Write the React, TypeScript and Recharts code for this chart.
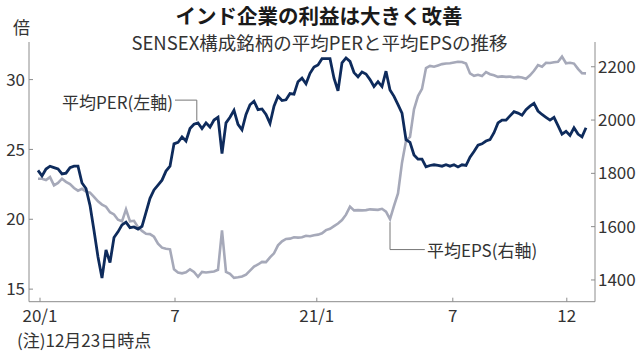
import { Line, LineChart, ReferenceLine, XAxis, YAxis } from "recharts";

// 平均PER (左軸, 倍) - roughly weekly samples from 2020/1 to 2021/12/23
const per = [
  23.5, 23.1, 23.6, 23.8, 23.7, 23.6, 23.25, 23.3, 23.7, 23.8,
  23.8, 22.6, 22.2, 21.0, 19.2, 17.3, 15.8, 17.8, 16.9, 18.7,
  19.1, 19.6, 19.8, 19.4, 19.45, 19.3, 19.5, 20.5, 21.5, 22.1,
  22.45, 22.8, 23.45, 23.8, 25.4, 25.5, 25.9, 25.6, 26.5, 26.8,
  26.9, 26.5, 26.9, 26.6, 27.1, 27.3, 24.7, 26.9, 27.3, 27.8,
  26.8, 26.4, 27.5, 28.2, 28.45, 27.85, 27.9, 27.5, 26.86, 28.1,
  28.8, 28.5, 28.55, 29.0, 28.95, 29.85, 30.1, 29.7, 30.45, 30.9,
  31.05, 31.5, 31.5, 31.5, 30.1, 29.2, 31.2, 31.55, 31.3, 30.5,
  30.2, 30.55, 30.4, 30.0, 29.5, 29.85, 29.5, 30.6, 29.25, 28.8,
  28.2, 27.6, 25.7, 25.5, 24.6, 24.3, 24.3, 23.75, 23.85, 23.9,
  23.85, 23.8, 23.9, 23.8, 23.9, 23.75, 23.9, 23.85, 24.45, 24.85,
  25.3, 25.4, 25.6, 25.7, 26.2, 26.9, 27.1, 27.1, 27.4, 27.7,
  27.6, 27.45, 27.85, 28.1, 28.3, 27.75, 27.5, 27.3, 27.1, 27.3,
  26.7, 26.1, 26.3, 26.0, 26.55, 26.1, 25.9, 26.55,
];

// 平均EPS (右軸)
const eps = [
  1780, 1780, 1775, 1786, 1755, 1764, 1780, 1768, 1760, 1745,
  1735, 1742, 1732, 1728, 1712, 1695, 1683, 1675, 1654, 1646,
  1626, 1620, 1665, 1620, 1622, 1598, 1584, 1573, 1572, 1562,
  1536, 1521, 1517, 1515, 1440, 1428, 1425, 1429, 1440, 1430,
  1412, 1430, 1428, 1430, 1432, 1438, 1586, 1430, 1423, 1408,
  1410, 1413, 1420, 1435, 1450, 1458, 1468, 1467, 1485, 1500,
  1530, 1545, 1554, 1555, 1560, 1559, 1560, 1566, 1564, 1568,
  1570, 1575, 1587, 1592, 1602, 1612, 1625, 1645, 1675, 1661,
  1662, 1661, 1662, 1665, 1664, 1663, 1667, 1656, 1628, 1678,
  1725, 1840, 1922, 1937, 2040, 2090, 2117, 2195, 2203, 2200,
  2205, 2210, 2212, 2213, 2216, 2219, 2218, 2212, 2175, 2166,
  2170, 2165, 2180, 2172, 2168, 2162, 2164, 2162, 2163, 2160,
  2162, 2160, 2155, 2168, 2185, 2206, 2200, 2215, 2214, 2217,
  2219, 2238, 2213, 2215, 2212, 2192, 2176, 2175,
];

const xTickPos = [0.5, 34.25, 69.7, 103.7, 132.2];
const xTickLabels = ["20/1", "7", "21/1", "7", "12"];
const perTicks = [15, 20, 25, 30];
const epsTicks = [1400, 1600, 1800, 2000, 2200];

const data = per.map((v, i) => ({ i, per: v, eps: eps[i] }));

const NAVY = "#0e2b5c";
const GREY = "#a6a9b9";
const AXIS = "#8c8c8c";
const TEXT = "#333";
const narrow = "'Liberation Sans Narrow', 'Noto Sans CJK JP', sans-serif";
const jp = "'Noto Sans CJK JP', sans-serif";

const LeftTick = ({ x, y, payload }: any) => (
  <g>
    <line x1={x} x2={x + 4} y1={y} y2={y} stroke={AXIS} />
    <text x={x - 4} y={y} dy="0.36em" textAnchor="end" fontSize={17} fontFamily={narrow} fill={TEXT}>
      {payload.value}
    </text>
  </g>
);

const RightTick = ({ x, y, payload }: any) => (
  <g>
    <line x1={x} x2={x - 4} y1={y} y2={y} stroke={AXIS} />
    <text x={x + 3} y={y} dy="0.36em" textAnchor="start" fontSize={17} fontFamily={narrow} fill={TEXT}>
      {payload.value}
    </text>
  </g>
);

const BottomTick = ({ x, y, payload }: any) => {
  const idx = xTickPos.indexOf(payload.value);
  return (
    <g>
      <line x1={x} x2={x} y1={y} y2={y - 4} stroke={AXIS} />
      <text x={x} y={y + 14} dy="0.36em" textAnchor="middle" fontSize={17} fontFamily={narrow} fill={TEXT}>
        {xTickLabels[idx]}
      </text>
    </g>
  );
};

const abs = (extra: any) => ({ position: "absolute" as const, whiteSpace: "nowrap" as const, lineHeight: 1, color: TEXT, ...extra });

export default function App() {
  return (
    <div style={{ position: "absolute", left: 0, top: 0, width: 638, height: 357, background: "#fff" }}>
      <LineChart width={638} height={357} data={data} margin={{ top: 42, right: 0, bottom: 0, left: 0 }}>
        <XAxis
          dataKey="i"
          type="number"
          domain={[-2.25, 139.25]}
          ticks={xTickPos}
          interval={0}
          height={55.3}
          tickSize={0}
          tickMargin={0}
          tickLine={false}
          axisLine={{ stroke: AXIS }}
          tick={<BottomTick />}
          allowDataOverflow
        />
        <YAxis
          yAxisId="per"
          orientation="left"
          width={29}
          domain={[14.1, 32.69]}
          ticks={perTicks}
          tickSize={0}
          tickMargin={0}
          tickLine={false}
          axisLine={{ stroke: AXIS }}
          tick={<LeftTick />}
          allowDataOverflow
        />
        <YAxis
          yAxisId="eps"
          orientation="right"
          width={43}
          domain={[1318.4, 2292.9]}
          ticks={epsTicks}
          tickSize={0}
          tickMargin={0}
          tickLine={false}
          axisLine={{ stroke: AXIS }}
          tick={<RightTick />}
          allowDataOverflow
        />
        <ReferenceLine yAxisId="per" segment={[{ x: 34.25, y: 28.53 }, { x: 39.7, y: 28.53 }]} stroke="#777" />
        <ReferenceLine yAxisId="per" segment={[{ x: 39.7, y: 28.53 }, { x: 39.7, y: 27.05 }]} stroke="#777" />
        <ReferenceLine yAxisId="eps" segment={[{ x: 88, y: 1617 }, { x: 88, y: 1514 }]} stroke="#777" />
        <ReferenceLine yAxisId="eps" segment={[{ x: 88, y: 1514 }, { x: 96.7, y: 1514 }]} stroke="#777" />
        <Line yAxisId="eps" dataKey="eps" type="linear" stroke={GREY} strokeWidth={2.6} dot={false} isAnimationActive={false} />
        <Line yAxisId="per" dataKey="per" type="linear" stroke={NAVY} strokeWidth={2.8} dot={false} isAnimationActive={false} />
      </LineChart>

      <div style={abs({ left: 319, top: 5, transform: "translateX(-50%)", fontSize: 20.5, fontWeight: 700, fontFamily: jp, color: "#1a1a1a" })}>
        インド企業の利益は大きく改善
      </div>
      <div style={abs({ left: 319.5, top: 33, transform: "translateX(-50%)", fontSize: 18.5, fontFamily: narrow })}>
        SENSEX構成銘柄の平均PERと平均EPSの推移
      </div>
      <div style={abs({ left: 13, top: 18, fontSize: 17, fontFamily: jp })}>倍</div>
      <div style={abs({ left: 173, top: 93, transform: "translateX(-100%)", fontSize: 17, fontFamily: narrow })}>
        平均PER(左軸)
      </div>
      <div style={abs({ left: 427, top: 241, fontSize: 17, fontFamily: narrow })}>平均EPS(右軸)</div>
      <div style={abs({ left: 17, top: 331, fontSize: 17, fontFamily: narrow })}>(注)12月23日時点</div>
    </div>
  );
}
